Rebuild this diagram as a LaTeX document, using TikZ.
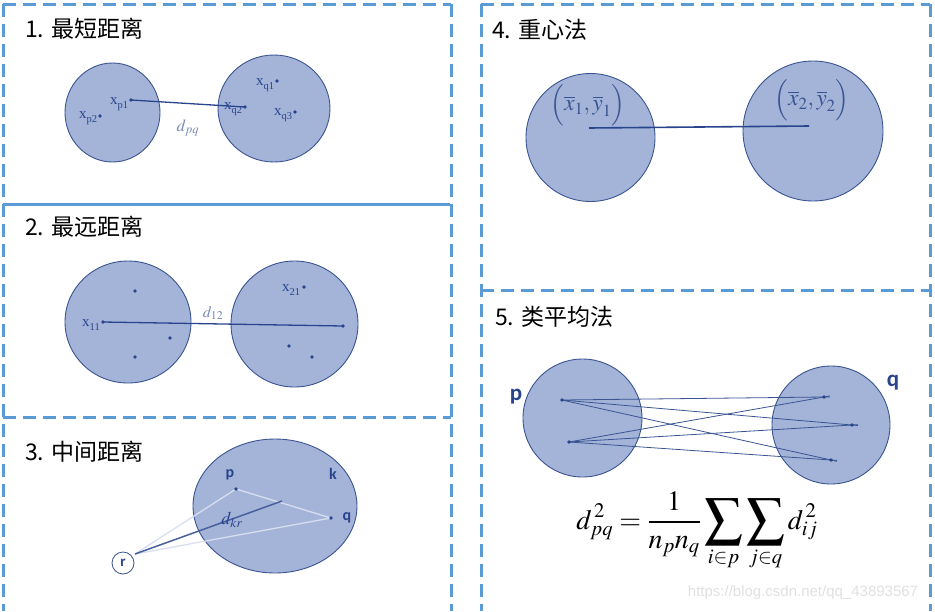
\documentclass[tikz,border=0pt]{standalone}
\usepackage{mathptmx}
\usepackage{fontspec}
\usetikzlibrary{shapes.geometric}
\newfontfamily\cjk{Noto Sans CJK SC}
\newfontfamily\tms{Liberation Serif}
\newfontfamily\arl{Liberation Sans}
\newfontfamily\carl{Carlito}
\definecolor{bord}{RGB}{91,155,213}
\definecolor{cfill}{RGB}{164,180,216}
\definecolor{cedge}{RGB}{58,84,146}
\definecolor{ink}{RGB}{40,68,140}
\definecolor{pale}{RGB}{214,222,240}
\definecolor{faded}{RGB}{120,138,180}
\newcommand{\xs}[2]{{\tms\fontsize{15}{15}\selectfont #1\raisebox{-3.5pt}{\fontsize{10.5}{10.5}\selectfont #2}}}
\newcommand{\bigsum}{\mathop{\vcenter{\hbox{\scalebox{1.35}{$\displaystyle\sum$}}}}\limits}
\tikzset{
  bd/.style={draw=bord,line width=3pt,dash pattern=on 13pt off 7pt},
  bdsolid/.style={draw=bord,line width=3pt},
  clus/.style={ellipse,draw=cedge,fill=cfill,line width=0.9pt,inner sep=0pt,outer sep=0pt},
  title/.style={anchor=west,inner sep=0pt,font=\cjk\fontsize{23}{23}\selectfont},
  lbl/.style={inner sep=0pt,text=ink},
  bl/.style={inner sep=0pt,text=ink,font=\carl\bfseries\fontsize{16}{16}\selectfont},
  bl2/.style={inner sep=0pt,text=ink,font=\carl\bfseries\fontsize{23}{23}\selectfont},
  dot/.style={fill=ink},
  lnk/.style={draw=ink,line width=1.3pt},
}
\begin{document}
\begin{tikzpicture}[x=1pt,y=-1pt]
\useasboundingbox (0,0) rectangle (935,611);
% ---------- panel borders ----------
\draw[bd] (3,4) -- (451,4);
\draw[bd] (3,4) -- (3,611);
\draw[bd] (451,4) -- (451,611);
\draw[bd] (3,417) -- (451,417);
\draw[bdsolid] (3,204) -- (450,204);
\draw[bd] (481,4) -- (930,4);
\draw[bd] (481,4) -- (481,611);
\draw[bd] (930,4) -- (930,611);
\draw[bd] (481,290) -- (930,290);
% ---------- titles ----------
\node[title] (t1) at (25,29) {1. 最短距离};
\node[title] (t2) at (25,227) {2. 最远距离};
\node[title] (t3) at (25,452) {3. 中间距离};
\node[title] (t4) at (492,30) {4. 重心法};
\node[title] (t5) at (495,317) {5. 类平均法};
% ---------- panel 1 ----------
\node[clus,minimum width=95pt,minimum height=99pt] (P1) at (112.5,112.5) {};
\node[clus,minimum width=112pt,minimum height=107pt] (Q1) at (274,108.5) {};
\coordinate (xp1) at (131,100);
\coordinate (xp2) at (100,116);
\coordinate (xq1) at (277,81);
\coordinate (xq2) at (245,107);
\coordinate (xq3) at (295,112);
\draw[lnk] (xp1) -- (xq2);
\foreach \c in {xp1,xp2,xq1,xq2,xq3} \fill[dot] (\c) circle (1.8pt);
\node[lbl] (lxp1) at (119,104) {\xs{x}{p1}};
\node[lbl] (lxp2) at (88,118) {\xs{x}{p2}};
\node[lbl] (lxq1) at (265,85) {\xs{x}{q1}};
\node[lbl] (lxq2) at (233,109) {\xs{x}{q2}};
\node[lbl] (lxq3) at (283,115) {\xs{x}{q3}};
\node[lbl,text=faded] (dpq) at (188,128) {\fontsize{17}{17}\selectfont$d_{pq}$};
% ---------- panel 2 ----------
\node[clus,minimum width=126pt,minimum height=122pt] (P2) at (128,322) {};
\node[clus,minimum width=127pt,minimum height=126pt] (Q2) at (294.5,324) {};
\coordinate (x11) at (103,322);
\coordinate (a2) at (135,291);
\coordinate (b2) at (170,338);
\coordinate (c2) at (135,357);
\coordinate (x21) at (304,287);
\coordinate (far) at (343,326);
\coordinate (e2) at (289,346);
\coordinate (f2) at (312,357);
\draw[lnk] (x11) -- (far);
\foreach \c in {x11,a2,b2,c2,x21,far,e2,f2} \fill[dot] (\c) circle (1.8pt);
\node[lbl] (lx11) at (91,325) {\xs{x}{11}};
\node[lbl] (lx21) at (291,290) {\xs{x}{21}};
\node[lbl,text=faded] (d12) at (213,313) {\fontsize{16}{16}\selectfont$d_{12}$};
% ---------- panel 3 ----------
\node[clus,minimum width=164pt,minimum height=134pt] (K) at (275,506) {};
\coordinate (pp) at (236,489);
\coordinate (qq) at (331,518);
\coordinate (mm) at (282,501);
\node[circle,draw=cedge,fill=white,line width=0.8pt,minimum size=22pt,inner sep=0pt] (R) at (123,563) {};
\node[bl,font=\carl\bfseries\fontsize{15}{15}\selectfont] (lr) at (R) {r};
\coordinate (rp) at (135,554);
\draw[pale,line width=1.3pt] (rp) -- (pp);
\draw[pale,line width=1.3pt] (rp) -- (qq);
\draw[pale,line width=1.3pt] (pp) -- (qq);
\draw[draw=ink!85,line width=1.5pt] (rp) -- (mm);
\foreach \c in {pp,qq} \fill[dot] (\c) circle (1.8pt);
\node[bl] (lp3) at (230,475) {p};
\node[bl] (lk3) at (333,474) {k};
\node[bl] (lq3) at (347,518) {q};
\node[lbl] (dkr) at (232,520) {\fontsize{18}{18}\selectfont$d_{kr}$};
% ---------- panel 4 ----------
\node[clus,minimum width=129pt,minimum height=128pt] (P4) at (590.5,137.5) {};
\node[clus,minimum width=140pt,minimum height=140pt] (Q4) at (813,131) {};
\coordinate (g1) at (589,128);
\coordinate (g2) at (809,126);
\draw[draw=ink,line width=1.6pt] (g1) -- (g2);
\node[lbl,text=cedge] (lg1) at (588,105) {\fontsize{23}{23}\selectfont$\Bigl(\overline{x}_1,\overline{y}_1\Bigr)$};
\node[lbl,text=cedge] (lg2) at (812,100) {\fontsize{23}{23}\selectfont$\Bigl(\overline{x}_2,\overline{y}_2\Bigr)$};
% ---------- panel 5 ----------
\node[clus,minimum width=119pt,minimum height=118pt] (P5) at (582.5,418) {};
\node[clus,minimum width=118pt,minimum height=118pt] (Q5) at (831,425) {};
\coordinate (l1) at (562,400);
\coordinate (l2) at (569,442);
\coordinate (r1) at (824,397);
\coordinate (r2) at (852,425);
\coordinate (r3) at (831,460);
\foreach \a in {l1,l2} \foreach \b in {r1,r2,r3}
  \draw[draw=cedge,line width=0.8pt,shorten >=-6pt] (\a) -- (\b);
\foreach \c in {l1,l2,r1,r2,r3} \fill[dot] (\c) circle (1.8pt);
\node[bl2] (lp5) at (516,397) {p};
\node[bl2] (lq5) at (893,383) {q};
\node[inner sep=0pt] (formula) at (697,531) {\fontsize{28}{32}\selectfont$\displaystyle d_{pq}^{\,2}=\frac{1}{n_pn_q}\bigsum_{i\in p}\bigsum_{j\in q}d_{ij}^{\,2}$};
\node[inner sep=0pt,text=black!12,font=\arl\fontsize{15}{15}\selectfont] (wm) at (803,593) {https://blog.csdn.net/qq\_43893567};
\end{tikzpicture}
\end{document}
